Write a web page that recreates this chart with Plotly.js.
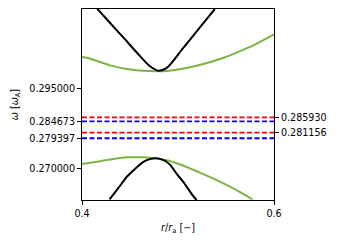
<!DOCTYPE html>
<html>
<head>
<meta charset="utf-8">
<script src="https://cdn.plot.ly/plotly-3.0.1.min.js"></script>
<style>html,body{margin:0;padding:0;background:#fff;}#chart{width:340px;height:244px;}</style>
</head>
<body>
<div id="chart"></div>
<script>
// Upper black curve (r/ra, omega)
const blackUpperX = [0.4158, 0.4260, 0.4432, 0.4605, 0.4709, 0.4795, 0.4883, 0.5055, 0.5228, 0.5384];
const blackUpperY = [0.3201, 0.3167, 0.3110, 0.3052, 0.3020, 0.3006, 0.3015, 0.3078, 0.3142, 0.3200];
// Upper green curve
const greenUpperX = [0.400, 0.4086, 0.4294, 0.4502, 0.4709, 0.4883, 0.5125, 0.5263, 0.5437, 0.5610, 0.5800, 0.600];
const greenUpperY = [0.3049, 0.3044, 0.3023, 0.3010, 0.3005, 0.3005, 0.3017, 0.3027, 0.3043, 0.3063, 0.3088, 0.3120];
// Lower green curve
const greenLowerX = [0.400, 0.4190, 0.4328, 0.4467, 0.4605, 0.4709, 0.4779, 0.4883, 0.5038, 0.5228, 0.5420, 0.5610, 0.5776];
const greenLowerY = [0.2713, 0.2722, 0.2729, 0.2734, 0.2734, 0.2733, 0.2730, 0.2725, 0.2710, 0.2686, 0.2660, 0.2631, 0.2602];
// Lower black curve
const blackLowerX = [0.4287, 0.4380, 0.4467, 0.4560, 0.4640, 0.4710, 0.4779, 0.4850, 0.4917, 0.4987, 0.5055, 0.5159, 0.5194];
const blackLowerY = [0.2602, 0.2638, 0.2673, 0.2700, 0.2720, 0.2729, 0.2731, 0.2725, 0.2711, 0.2682, 0.2657, 0.2612, 0.2600];
// Horizontal dashed levels
const blueLevels = [0.284673, 0.279397];
const redLevels = [0.285930, 0.281156];
const leftTicks = [0.295000, 0.284673, 0.279397, 0.270000];
const rightTicks = [0.285930, 0.281156];
const xTicks = [0.4, 0.6];
const xRange = [0.4, 0.6];
const yRange = [0.26, 0.32];

const green = '#7db343';
const traces = [];
traces.push({x: greenUpperX, y: greenUpperY, mode: 'lines', line: {color: green, width: 2, shape: 'spline', smoothing: 0.8}, hoverinfo: 'skip'});
traces.push({x: greenLowerX, y: greenLowerY, mode: 'lines', line: {color: green, width: 2, shape: 'spline', smoothing: 0.8}, hoverinfo: 'skip'});
traces.push({x: blackUpperX, y: blackUpperY, mode: 'lines', line: {color: '#000', width: 2, shape: 'spline', smoothing: 0.8}, hoverinfo: 'skip'});
traces.push({x: blackLowerX, y: blackLowerY, mode: 'lines', line: {color: '#000', width: 2, shape: 'spline', smoothing: 0.8}, hoverinfo: 'skip'});
blueLevels.forEach(v => traces.push({x: xRange, y: [v, v], mode: 'lines', line: {color: '#0000ff', width: 1.8, dash: '5px,2.5px'}, hoverinfo: 'skip'}));
redLevels.forEach(v => traces.push({x: xRange, y: [v, v], yaxis: 'y2', mode: 'lines', line: {color: '#ff0000', width: 1.8, dash: '5px,2.5px'}, hoverinfo: 'skip'}));

const fnt = {family: 'DejaVu Sans', size: 9.6, color: '#000'};
const fmt = v => v.toFixed(6);
const layout = {
  width: 340, height: 244,
  margin: {l: 82, r: 66, t: 9, b: 44},
  paper_bgcolor: '#fff', plot_bgcolor: '#fff',
  showlegend: false,
  font: fnt,
  xaxis: {
    range: xRange, tickvals: xTicks, ticktext: xTicks.map(v => v.toFixed(1)),
    showgrid: false, zeroline: false, showline: true, mirror: true, linecolor: '#000', linewidth: 1,
    ticks: 'outside', ticklen: 4, tickwidth: 1, tickcolor: '#000', tickfont: fnt,
    title: {text: '<i>r</i>/<i>r</i><sub>a</sub> [−]', font: fnt, standoff: 6}
  },
  yaxis: {
    range: yRange, tickvals: leftTicks, ticktext: leftTicks.map(fmt),
    showgrid: false, zeroline: false, showline: true, mirror: true, linecolor: '#000', linewidth: 1,
    ticks: 'outside', ticklen: 4, tickwidth: 1, tickcolor: '#000', tickfont: fnt,
    title: {text: '<i>ω</i> [<i>ω</i><sub>A</sub>]', font: fnt, standoff: 8}
  },
  yaxis2: {
    range: yRange, overlaying: 'y', side: 'right', tickvals: rightTicks, ticktext: rightTicks.map(fmt),
    showgrid: false, zeroline: false, showline: false,
    ticks: 'outside', ticklen: 4, tickwidth: 1, tickcolor: '#000', tickfont: fnt
  }
};
Plotly.newPlot('chart', traces, layout, {staticPlot: true, displayModeBar: false});
</script>
</body>
</html>
